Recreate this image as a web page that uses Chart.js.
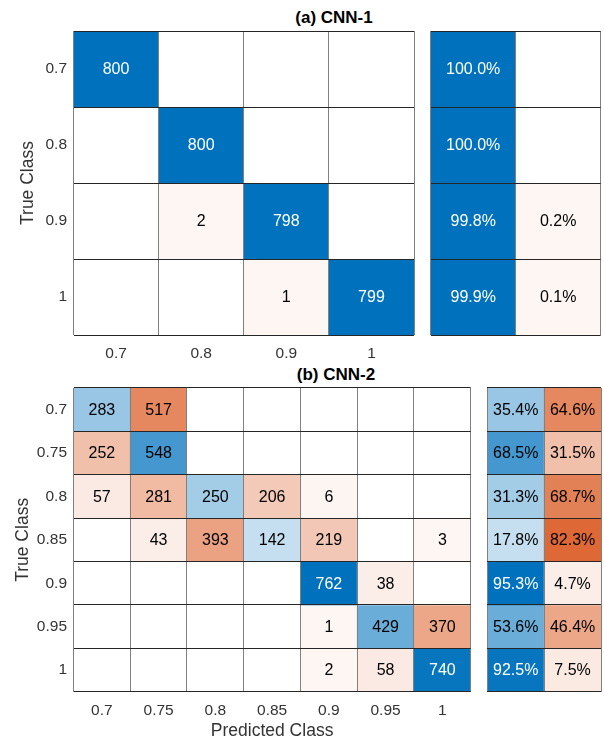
<!DOCTYPE html>
<html>
<head>
<meta charset="utf-8">
<script src="https://cdn.jsdelivr.net/npm/chart.js@4.4.1/dist/chart.umd.min.js"></script>
<style>
  body { margin: 0; background: #fff; }
  #wrap { position: relative; width: 604px; height: 742px; overflow: hidden; }
  canvas { position: absolute; }
  .ttl { position: absolute; width: 240px; text-align: center; font: bold 17px "Liberation Sans", Arial, sans-serif; color: #000; line-height: 20px; }
</style>
</head>
<body>
<div id="wrap">
  <div class="ttl" style="left:214px; top:8px;">(a) CNN-1</div>
  <div class="ttl" style="left:216px; top:365px;">(b) CNN-2</div>
  <canvas id="m1" style="left:0; top:0;" width="420" height="370"></canvas>
  <canvas id="s1" style="left:420px; top:0;" width="184" height="370"></canvas>
  <canvas id="m2" style="left:0; top:370px;" width="480" height="372"></canvas>
  <canvas id="s2" style="left:480px; top:370px;" width="124" height="372"></canvas>
</div>
<script>
// ================= DATA =================
const classes1 = ["0.7", "0.8", "0.9", "1"];
const counts1 = [
  [800, 0, 0, 0],
  [0, 800, 0, 0],
  [0, 2, 798, 0],
  [0, 0, 1, 799],
];
// row summary: [correct %, incorrect %]
const summary1 = [
  [100.0, 0],
  [100.0, 0],
  [99.8, 0.2],
  [99.9, 0.1],
];

const classes2 = ["0.7", "0.75", "0.8", "0.85", "0.9", "0.95", "1"];
const counts2 = [
  [283, 517, 0, 0, 0, 0, 0],
  [252, 548, 0, 0, 0, 0, 0],
  [57, 281, 250, 206, 6, 0, 0],
  [0, 43, 393, 142, 219, 0, 3],
  [0, 0, 0, 0, 762, 38, 0],
  [0, 0, 0, 0, 1, 429, 370],
  [0, 0, 0, 0, 2, 58, 740],
];
const summary2 = [
  [35.4, 64.6],
  [68.5, 31.5],
  [31.3, 68.7],
  [17.8, 82.3],
  [95.3, 4.7],
  [53.6, 46.4],
  [92.5, 7.5],
];

// ================= HELPERS =================
const BLUE = [0, 114, 189];
const ORANGE = [217, 83, 25];
const FONT = "'Liberation Sans', Arial, sans-serif";
Chart.defaults.font.family = FONT;
Chart.defaults.color = "#333333";

function mix(c, t) {
  t = 0.05 + 0.95 * t; // small values still get a faint tint
  return "rgb(" + c.map((v) => Math.round(255 + (v - 255) * t)).join(",") + ")";
}

function maxOf(m) {
  return Math.max(...m.map((r) => Math.max(...r)));
}

// text in the middle of every non-empty cell
function cellText(values, max, fmt) {
  return {
    id: "cellText",
    afterDatasetsDraw(chart) {
      const ctx = chart.ctx;
      ctx.save();
      ctx.font = "16px " + FONT;
      ctx.textAlign = "center";
      ctx.textBaseline = "middle";
      chart.data.datasets.forEach((ds, i) => {
        chart.getDatasetMeta(i).data.forEach((bar, j) => {
          const v = values[i][j];
          if (!v) return;
          const p = bar.getCenterPoint();
          ctx.fillStyle = v / max > 0.9 ? "#ffffff" : "#000000";
          ctx.fillText(fmt(v), p.x, p.y + 1);
        });
      });
      ctx.restore();
    },
  };
}

function makeChart(id, p) {
  const rows = p.rows;
  const max = maxOf(p.values);
  const datasets = p.values.map((row, i) => ({
    data: row.map((v) => [i - 0.5, i + 0.5]),
    backgroundColor: row.map((v, j) =>
      v ? mix(p.isBlue(i, j) ? BLUE : ORANGE, v / max) : "#ffffff"
    ),
    borderWidth: 0,
    grouped: false,
    barPercentage: 1,
    categoryPercentage: 1,
  }));

  return new Chart(document.getElementById(id), {
    type: "bar",
    data: { labels: p.cols, datasets },
    options: {
      responsive: false,
      animation: false,
      events: [],
      layout: { padding: p.pad },
      plugins: {
        legend: { display: false },
        tooltip: { enabled: false },
      },
      scales: {
        x: {
          type: "category",
          offset: true,
          grid: { offset: true, color: "#808080", drawTicks: false, z: 1 },
          border: { display: false },
          ticks: {
            display: p.xTicks,
            padding: p.xPad,
            font: { size: 15.5 },
            maxRotation: 0,
            autoSkip: false,
          },
          title: {
            display: !!p.xTitle,
            text: p.xTitle || "",
            font: { size: 17.5 },
            padding: { top: 0, bottom: 0 },
          },
          afterFit: (s) => { s.height = p.xH; },
        },
        y: {
          type: "linear",
          reverse: true,
          min: -0.5,
          max: rows.length - 0.5,
          afterBuildTicks: (s) => { s.ticks = rows.map((r, i) => ({ value: i })); },
          grid: { offset: true, color: "#262626", drawTicks: false, z: 1 },
          border: { display: false },
          ticks: {
            display: p.yTicks,
            padding: 6.5,
            font: { size: 15.5 },
            callback: (v) => rows[v],
          },
          title: {
            display: !!p.yTitle,
            text: p.yTitle || "",
            font: { size: 17.5 },
            padding: { top: p.yTitlePad || 0, bottom: 0 },
          },
          afterFit: (s) => { s.width = p.yW; },
        },
      },
    },
    plugins: [cellText(p.values, max, p.fmt)],
  });
}

const countFmt = (v) => String(v);
const pctFmt = (v) => v.toFixed(1) + "%";
const diag = (i, j) => i === j;
const firstCol = (i, j) => j === 0;

window.onload = () => {
  makeChart("m1", {
    rows: classes1, cols: classes1, values: counts1, fmt: countFmt, isBlue: diag,
    pad: { top: 31, right: 6, left: 0, bottom: 0 },
    xTicks: true, xPad: 9, xH: 35, yTicks: true, yW: 73.5,
    yTitle: "True Class", yTitlePad: 18,
  });
  makeChart("s1", {
    rows: classes1, cols: ["Correct", "Incorrect"], values: summary1, fmt: pctFmt, isBlue: firstCol,
    pad: { top: 31, right: 3.3, left: 0, bottom: 0 },
    xTicks: false, xPad: 0, xH: 35, yTicks: false, yW: 10.7,
  });
  makeChart("m2", {
    rows: classes2, cols: classes2, values: counts2, fmt: countFmt, isBlue: diag,
    pad: { top: 18, right: 9.3, left: 0, bottom: 0 },
    xTicks: true, xPad: 9.3, xH: 50.3, yTicks: true, yW: 73.5,
    xTitle: "Predicted Class", yTitle: "True Class", yTitlePad: 13,
  });
  makeChart("s2", {
    rows: classes2, cols: ["Correct", "Incorrect"], values: summary2, fmt: pctFmt, isBlue: firstCol,
    pad: { top: 18, right: 3, left: 0, bottom: 0 },
    xTicks: false, xPad: 0, xH: 50.3, yTicks: false, yW: 7.3,
  });
};
</script>
</body>
</html>
